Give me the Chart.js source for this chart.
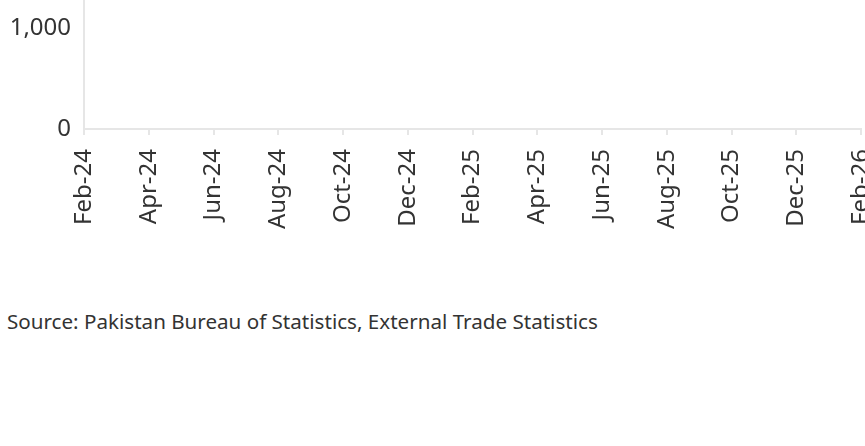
<!DOCTYPE html>
<html>
<head>
<meta charset="utf-8">
<script src="https://cdn.jsdelivr.net/npm/chart.js@4.4.1/dist/chart.umd.min.js"></script>
<style>
  html, body { margin: 0; padding: 0; background: #fff; width: 865px; height: 446px; overflow: hidden; }
  #wrap { position: absolute; left: 0; top: -174px; width: 865px; height: 423px; }
  #source { position: absolute; left: 7px; top: 309px; font-family: 'Noto Sans', sans-serif; font-size: 20.6px; line-height: 24px; color: #333; white-space: nowrap; }
</style>
</head>
<body>
<div id="wrap"><canvas id="tradeChart"></canvas></div>
<div id="source">Source: Pakistan Bureau of Statistics, External Trade Statistics</div>
<script>
const months = [
  'Feb-24', 'Mar-24', 'Apr-24', 'May-24', 'Jun-24', 'Jul-24', 'Aug-24', 'Sep-24', 'Oct-24',
  'Nov-24', 'Dec-24', 'Jan-25', 'Feb-25', 'Mar-25', 'Apr-25', 'May-25', 'Jun-25', 'Jul-25',
  'Aug-25', 'Sep-25', 'Oct-25', 'Nov-25', 'Dec-25', 'Jan-26', 'Feb-26'
];
// nothing of the series is visible in the cropped reference
const tradeValues = [];
const yTicks = [0, 1000, 2000, 3000];

const axisColor = '#e6e6e6';
const textColor = '#333333';
const tickFont = { family: "'Noto Sans', sans-serif", size: 24 };

const ctx = document.getElementById('tradeChart').getContext('2d');
const tradeChart = new Chart(ctx, {
    type: 'line',
    data: {
        labels: months,
        datasets: [{
            label: 'Trade',
            data: tradeValues,
            borderColor: '#1f4e79',
            pointRadius: 0
        }]
    },
    options: {
        responsive: true,
        maintainAspectRatio: false,
        animation: false,
        layout: { padding: { left: 0, right: 4, top: 0, bottom: 0 } },
        plugins: { legend: { display: false }, tooltip: { enabled: false } },
        scales: {
            x: {
                offset: false,
                border: { color: axisColor, width: 2 },
                grid: { drawOnChartArea: false, drawTicks: true, tickLength: 6, color: axisColor, lineWidth: 2 },
                ticks: {
                    autoSkip: false,
                    minRotation: 90,
                    maxRotation: 90,
                    padding: 14,
                    color: textColor,
                    font: tickFont,
                    callback: function(value, index) {
                        return index % 2 === 0 ? months[index] : null;
                    }
                },
                afterFit: function(scale) {
                    scale.height = 120;
                    scale.paddingLeft = 0;
                    scale.paddingRight = 0;
                }
            },
            y: {
                min: yTicks[0],
                max: yTicks[yTicks.length - 1],
                border: { color: axisColor, width: 2 },
                grid: { drawOnChartArea: false, drawTicks: false },
                ticks: {
                    stepSize: 1000,
                    padding: 13,
                    color: textColor,
                    font: tickFont
                },
                afterFit: function(scale) {
                    scale.width = 84;
                    scale.paddingTop = 0;
                    scale.paddingBottom = 0;
                }
            }
        }
    }
});
</script>
</body>
</html>
